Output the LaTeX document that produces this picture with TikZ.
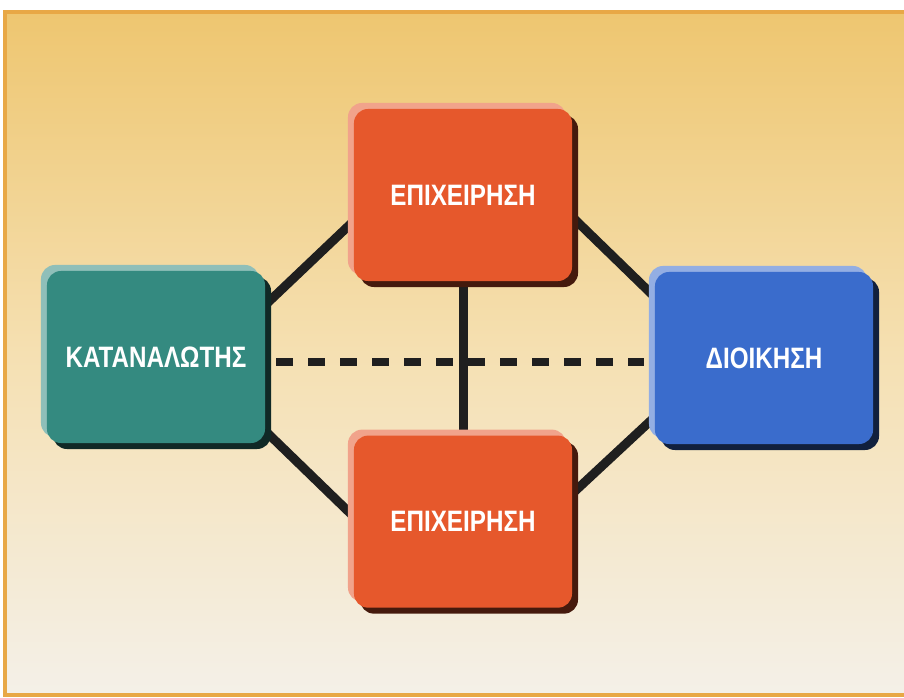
\documentclass[tikz,border=0pt]{standalone}
\usepackage{fontspec}
\newfontfamily\boxfont{Liberation Sans}[FakeStretch=0.82]
\usetikzlibrary{calc,positioning,shadows,backgrounds}

\definecolor{firm}{RGB}{230,88,44}
\definecolor{cust}{RGB}{52,138,128}
\definecolor{govt}{RGB}{58,108,204}
\definecolor{bgtop}{RGB}{238,198,112}
\definecolor{bgmid}{RGB}{245,224,178}
\definecolor{bgbot}{RGB}{244,240,232}
\definecolor{rim}{RGB}{232,168,70}

\begin{document}
\begin{tikzpicture}[
        x=0.025cm,y=0.025cm,
        box/.style={
            rounded corners=10pt,
            minimum width=5.45cm,minimum height=4.3cm,
            fill=#1,text=white,
            font=\boxfont\bfseries\fontsize{21}{25}\selectfont,
            general shadow={fill=#1!55!white,shadow xshift=-1.5mm,shadow yshift=1.5mm},
            general shadow={fill=#1!30!black,shadow xshift=1.5mm,shadow yshift=-1.5mm}
        },
        link/.style={line width=6.4pt,draw=black!88},
        weak/.style={line width=5pt,draw=black!88,dash pattern=on 0.425cm off 0.375cm}
    ]
    \useasboundingbox (0,0) rectangle (904,698);

    % the four parties
    \node (firmA) [box=firm] at (463,503)          {ΕΠΙΧΕΙΡΗΣΗ};
    \node (firmB) [box=firm,below=3.85cm of firmA] {ΕΠΙΧΕΙΡΗΣΗ};
    \node (cons)  [box=cust] at (156,341)          {ΚΑΤΑΝΑΛΩΤΗΣ};
    \node (admin) [box=govt] at (764,340)          {ΔΙΟΙΚΗΣΗ};

    \begin{pgfonlayer}{background}
        \fill[white] (0,0) rectangle (904,698);
        \shade[top color=bgtop,bottom color=bgbot,middle color=bgmid] (5,3) rectangle (904,686);
        \draw[rim,line width=2.2pt] (904,686) -- (5,686) -- (5,3) -- (904,3);

        \draw[link] ($(cons.east)+(0,52)$)   -- ($(firmA.west)+(0,-26)$);
        \draw[link] ($(firmA.east)+(0,-22)$) -- ($(admin.west)+(0,61)$);
        \draw[link] ($(cons.east)+(0,-74)$)  -- ($(firmB.west)+(0,5)$);
        \draw[link] ($(firmB.east)+(0,28)$)  -- ($(admin.west)+(0,-59)$);
        \draw[link] (firmA.south) -- (firmB.north);
        \draw[weak] ($(cons.east)+(11,-5)$)  -- ($(admin.west)+(-11,-4)$);
    \end{pgfonlayer}
\end{tikzpicture}
\end{document}
